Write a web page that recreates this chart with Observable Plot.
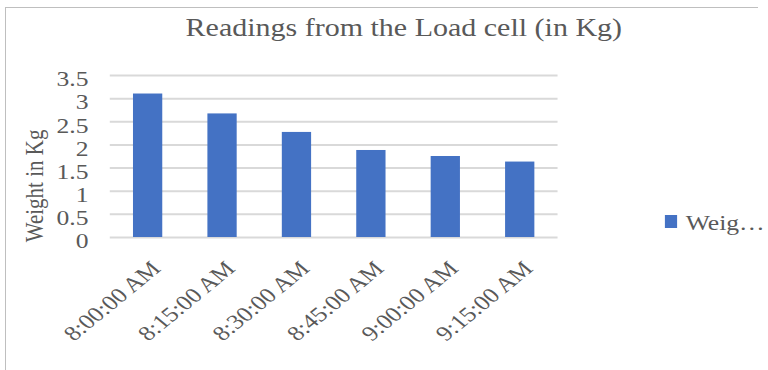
<!DOCTYPE html>
<html><head><meta charset="utf-8">
<script src="https://cdn.jsdelivr.net/npm/d3@7"></script>
<script src="https://cdn.jsdelivr.net/npm/@observablehq/plot@0.6"></script>
<style>
html,body{margin:0;padding:0;background:#fff;overflow:hidden;width:768px;height:370px;}
#frame{position:absolute;left:5px;top:7px;width:753px;height:370px;border-top:1.5px solid #bfbfbf;border-left:1.5px solid #bfbfbf;box-sizing:border-box;}
#chart{position:absolute;left:0;top:0;width:629px;height:370px;transform:scaleX(1.22);transform-origin:0 0;font-family:"Liberation Serif","Times New Roman",serif;}
#swatch{position:absolute;left:545px;top:215px;width:10.4px;height:12.7px;background:#4472C4;}
#legtext{position:absolute;left:562px;top:213px;font-size:21px;line-height:21px;color:#595959;white-space:nowrap;}
</style></head>
<body>
<div id="frame"></div>
<div id="chart"></div>
<script>
const times = ["8:00:00 AM","8:15:00 AM","8:30:00 AM","8:45:00 AM","9:00:00 AM","9:15:00 AM"];
const weights = [3.1, 2.67, 2.27, 1.88, 1.75, 1.63];
const yTicks = [0, 0.5, 1, 1.5, 2, 2.5, 3, 3.5];
const title = "Readings from the Load cell (in Kg)";
const yLabel = "Weight in Kg";
const seriesName = "Weig…";

const data = times.map((t, i) => ({time: t, weight: weights[i]}));
const ink = "#595959";

const plot = Plot.plot({
  width: 629,
  height: 370,
  marginLeft: 90,
  marginRight: 172,
  marginTop: 75,
  marginBottom: 133,
  style: {fontFamily: '"Liberation Serif","Times New Roman",serif', fontSize: "21px", color: ink, background: "transparent"},
  x: {domain: times, paddingInner: 0.6, paddingOuter: 0.3, axis: null},
  y: {domain: [0, 3.5], axis: null},
  marks: [
    Plot.ruleY(yTicks, {stroke: "#d9d9d9", strokeWidth: 2}),
    Plot.barY(data, {x: "time", y: "weight", fill: "#4472C4"}),
    Plot.axisY({ticks: yTicks, tickSize: 0, tickPadding: 18, tickFormat: d => String(d), fontSize: 21, fill: ink, dy: 4, label: null}),
    Plot.text(times, {x: d => d, text: d => d, frameAnchor: "bottom", rotate: -45, textAnchor: "end", lineAnchor: "middle", dx: 6.5, dy: 27.5, fontSize: 21, fill: ink}),
    Plot.text([yLabel], {text: d => d, frameAnchor: "left", rotate: -90, textAnchor: "middle", lineAnchor: "middle", dx: -61.8, dy: 29.4, fontSize: 21, fill: ink}),
    Plot.text([title], {text: d => d, frameAnchor: "top", textAnchor: "middle", lineAnchor: "middle", dx: 57, dy: -47.8, fontSize: 24.6, fill: ink})
  ]
});
const chart = document.getElementById("chart");
chart.appendChild(plot);
const sw = document.createElement("div"); sw.id = "swatch"; chart.appendChild(sw);
const lt = document.createElement("div"); lt.id = "legtext"; lt.textContent = seriesName; chart.appendChild(lt);
plot.style.position = "absolute"; plot.style.left = "0"; plot.style.top = "0";
</script>
</body></html>
